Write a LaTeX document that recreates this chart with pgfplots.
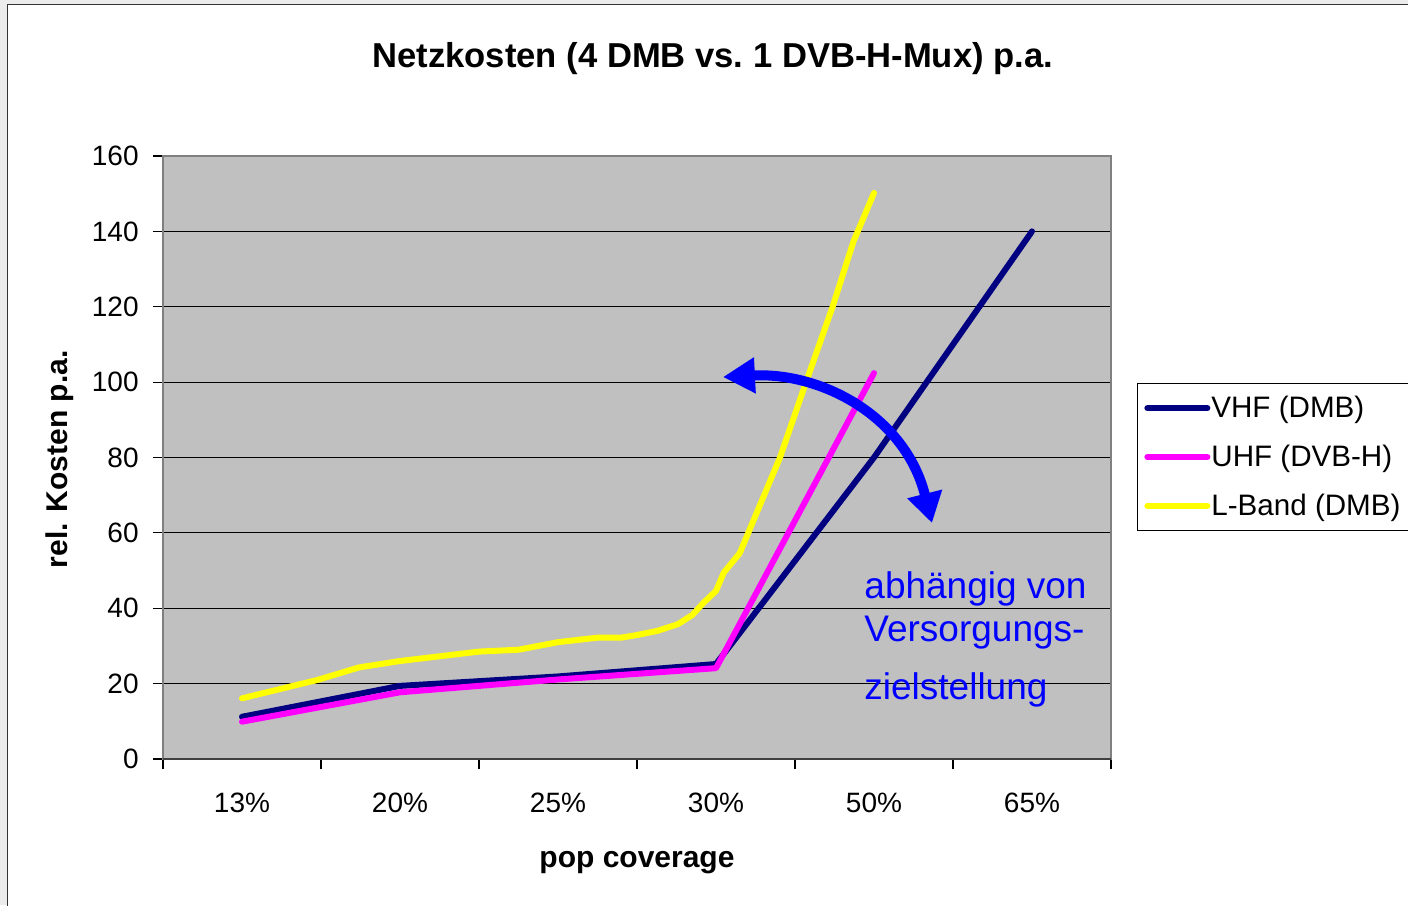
\documentclass[border=0pt]{standalone}
\usepackage{fontspec}
\setmainfont{Liberation Sans}
\usepackage{pgfplots}
\pgfplotsset{compat=1.18}
\usetikzlibrary{arrows.meta}
\definecolor{plotbg}{RGB}{192,192,192}
\definecolor{vhf}{RGB}{0,0,128}
\definecolor{uhf}{RGB}{255,0,255}
\definecolor{lband}{RGB}{255,255,0}
\definecolor{annot}{RGB}{0,0,255}
\definecolor{outerbg}{RGB}{236,236,236}
\definecolor{boxgray}{RGB}{128,128,128}
\begin{document}
\begin{tikzpicture}
\useasboundingbox (-81.5pt,-73pt) rectangle (622.5pt,379.5pt);
\fill[outerbg] (-81.5pt,-73pt) rectangle (622.5pt,379.5pt);
\filldraw[fill=white, draw=black!80, line width=0.6pt] (-77.75pt,-120pt) rectangle (700pt,377.25pt);
\begin{axis}[
  at={(0pt,0pt)}, anchor=south west,
  scale only axis, width=474pt, height=301.5pt,
  xmin=-0.5, xmax=5.5, ymin=0, ymax=160,
  xtick={-0.5,0.5,...,5.5}, x tick label as interval,
  xticklabels={13\%,20\%,25\%,30\%,50\%,65\%},
  ytick={0,20,...,160},
  xtick pos=bottom, ytick pos=left,
  ymajorgrids, grid style={black, line width=0.6pt},
  tick align=outside, major tick length=5pt,
  tick style={black, line width=0.6pt},
  axis background/.style={fill=plotbg},
  axis line style={boxgray, line width=1pt},
  /pgf/number format/assume math mode=true,
  tick label style={font=\fontsize{14}{16}\selectfont},
  xticklabel style={anchor=north, inner sep=0pt, yshift=-12pt},
  yticklabel style={anchor=east, inner sep=0pt, xshift=-7pt},
  title={Netzkosten (4 DMB vs.\ 1 DVB-H-Mux) p.a.},
  title style={at={(rel axis cs:0.580,1.141)}, anchor=center, font=\bfseries\fontsize{17.3}{20}\selectfont},
  xlabel={pop coverage},
  xlabel style={at={(rel axis cs:0.5,-0.1725)}, anchor=center, font=\bfseries\fontsize{15}{18}\selectfont},
  ylabel={rel. Kosten p.a.},
  ylabel style={at={(rel axis cs:-0.1087,0.497)}, anchor=center, font=\bfseries\fontsize{15}{18}\selectfont},
  legend style={at={(rel axis cs:1.0274,0.624)}, anchor=north west, draw=black, fill=white,
    font=\fontsize{14.8}{17}\selectfont, inner xsep=3.5pt, inner ysep=5.4pt, row sep=10.2pt,
    nodes={inner xsep=0.5pt, inner ysep=1pt}},
  legend cell align=left,
  legend image code/.code={\draw[#1, line width=3pt, line cap=round] (0pt,0pt) -- (30pt,0pt);},
]
\addplot[vhf, line width=3pt, line cap=round, line join=round] coordinates {
  (0,11.2) (1,19.4) (2,21.9) (3,25.2) (4,80) (5,140)};
\addlegendentry{VHF (DMB)}
\addplot[uhf, line width=3pt, line cap=round, line join=round] coordinates {
  (0,9.9) (1,17.7) (2,21.1) (3,24.1) (4,102.4)};
\addlegendentry{UHF (DVB-H)}
\addplot[lband, line width=3pt, line cap=round, line join=round] coordinates {
  (0,16.1) (0.48,21) (0.74,24.3) (1,26) (1.5,28.5) (1.75,29) (2,31) (2.25,32.2)
  (2.4,32.2) (2.5,32.9) (2.63,34) (2.76,35.8) (2.85,38.2) (2.92,41.4) (3,44.6)
  (3.05,49.5) (3.15,54.6) (3.405,80) (3.57,100) (3.738,120) (3.87,137.3) (4,150.2)};
\addlegendentry{L-Band (DMB)}
\draw[black!75, line width=1pt] (rel axis cs:0,0) -- (rel axis cs:1,0);
\draw[annot, line width=5pt, {Triangle[length=16pt,width=17pt]}-{Triangle[length=15pt,width=17pt]}]
  (axis cs:3.044,101.35) .. controls (axis cs:3.658,102.68) and (axis cs:4.196,91.27) .. (axis cs:4.367,62.62);
\node[anchor=base west, text=annot, font=\fontsize{18.5}{22}\selectfont, inner sep=0pt] at (axis cs:3.937,42.6) {abhängig von};
\node[anchor=base west, text=annot, font=\fontsize{18.5}{22}\selectfont, inner sep=0pt] at (axis cs:3.937,31.1) {Versorgungs-};
\node[anchor=base west, text=annot, font=\fontsize{18.5}{22}\selectfont, inner sep=0pt] at (axis cs:3.937,15.8) {zielstellung};
\end{axis}
\end{tikzpicture}
\end{document}
